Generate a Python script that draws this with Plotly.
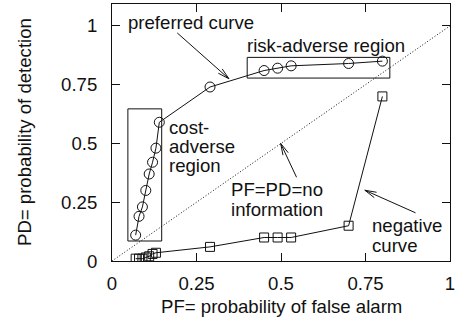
import math
import plotly.graph_objects as go

# Preferred (circles) and negative (squares) ROC curves
pf_pref = [0.07, 0.08, 0.09, 0.10, 0.11, 0.12, 0.13, 0.14, 0.29, 0.45, 0.49, 0.53, 0.70, 0.80]
pd_pref = [0.11, 0.19, 0.23, 0.30, 0.37, 0.42, 0.48, 0.59, 0.74, 0.81, 0.82, 0.83, 0.84, 0.85]

pf_neg = [0.07, 0.08, 0.09, 0.10, 0.11, 0.12, 0.13, 0.29, 0.45, 0.49, 0.53, 0.70, 0.80]
pd_neg = [0.01, 0.01, 0.01, 0.015, 0.02, 0.03, 0.035, 0.06, 0.10, 0.10, 0.10, 0.15, 0.70]

# No-information diagonal
pf_diag = [0, 1]
pd_diag = [0, 1]

tick_vals = [0, 0.25, 0.5, 0.75, 1]
tick_text = ["0", "0.25", "0.5", "0.75", "1"]

# Highlighted regions (x0, x1, y0, y1)
cost_region = (0.047, 0.147, 0.085, 0.647)
risk_region = (0.40, 0.822, 0.778, 0.866)

FONT = "Liberation Sans, Arial, sans-serif"
FS = 18.6
INK = "#111111"

W, H = 458, 325
ML, MR, MT, MB = 112, 6, 3, 64
YMAX = 1.093
px_x = (W - ML - MR) / 1.0
px_y = (H - MT - MB) / YMAX

fig = go.Figure()

fig.add_trace(go.Scatter(x=pf_diag, y=pd_diag, mode="lines",
                         line=dict(color=INK, width=1, dash="1px,2px"),
                         hoverinfo="skip", showlegend=False))
fig.add_trace(go.Scatter(x=pf_pref, y=pd_pref, mode="lines+markers",
                         line=dict(color=INK, width=1),
                         marker=dict(symbol="circle-open", size=10, color=INK,
                                     line=dict(width=1, color=INK)),
                         showlegend=False))
fig.add_trace(go.Scatter(x=pf_neg, y=pd_neg, mode="lines+markers",
                         line=dict(color=INK, width=1),
                         marker=dict(symbol="square-open", size=9, color=INK,
                                     line=dict(width=1, color=INK)),
                         showlegend=False))

for (x0, x1, y0, y1) in (cost_region, risk_region):
    fig.add_shape(type="rect", x0=x0, x1=x1, y0=y0, y1=y1, xref="x", yref="y",
                  line=dict(color=INK, width=1))


def arrow(tail, head, head_len=12, spread=14):
    """Shaft plus open V head, head size measured in pixels."""
    fig.add_shape(type="line", x0=tail[0], y0=tail[1], x1=head[0], y1=head[1],
                  xref="x", yref="y", line=dict(color=INK, width=1))
    dxp = (tail[0] - head[0]) * px_x
    dyp = (tail[1] - head[1]) * px_y
    ang = math.atan2(dyp, dxp)
    for s in (-1, 1):
        a = ang + s * math.radians(spread)
        ex = head[0] + head_len * math.cos(a) / px_x
        ey = head[1] + head_len * math.sin(a) / px_y
        fig.add_shape(type="line", x0=head[0], y0=head[1], x1=ex, y1=ey,
                      xref="x", yref="y", line=dict(color=INK, width=1))


arrow((0.193, 0.970), (0.346, 0.775))
arrow((0.546, 0.356), (0.499, 0.500))
arrow((0.898, 0.205), (0.748, 0.301))

labels = [
    ("preferred curve", 0.043, 1.013),
    ("risk-adverse region", 0.396, 0.915),
    ("cost-", 0.167, 0.568),
    ("adverse", 0.167, 0.487),
    ("region", 0.167, 0.407),
    ("PF=PD=no", 0.349, 0.304),
    ("information", 0.349, 0.219),
    ("negative", 0.767, 0.149),
    ("curve", 0.767, 0.068),
]
for text, x, y in labels:
    fig.add_annotation(text=text, x=x, y=y, xref="x", yref="y",
                       xanchor="left", yanchor="middle", showarrow=False,
                       borderpad=0,
                       font=dict(family=FONT, size=FS, color=INK))

# Axis titles
fig.add_annotation(text="PF= probability of false alarm", x=0.5, y=(H - MB - 307) / (H - MT - MB),
                   xref="paper", yref="paper", xanchor="center", yanchor="middle",
                   showarrow=False, font=dict(family=FONT, size=FS, color=INK))
fig.add_annotation(text="PD= probability of detection", x=(24 - ML) / (W - ML - MR), y=0.5,
                   xref="paper", yref="paper", xanchor="center", yanchor="middle",
                   textangle=-90, showarrow=False, font=dict(family=FONT, size=FS, color=INK))

axis_common = dict(showgrid=False, zeroline=False, showline=True, linecolor=INK, linewidth=1,
                   mirror="ticks", ticks="inside", ticklen=8, tickwidth=1, tickcolor=INK,
                   tickvals=tick_vals, ticktext=tick_text,
                   tickfont=dict(family=FONT, size=FS, color=INK))

fig.update_xaxes(range=[0, 1], ticklabelstandoff=6, **axis_common)
fig.update_yaxes(range=[0, YMAX], ticklabelstandoff=10, **axis_common)

fig.update_layout(width=W, height=H, margin=dict(l=ML, r=MR, t=MT, b=MB),
                  paper_bgcolor="white", plot_bgcolor="white",
                  font=dict(family=FONT, size=FS, color=INK))

fig.write_html("out.html")
